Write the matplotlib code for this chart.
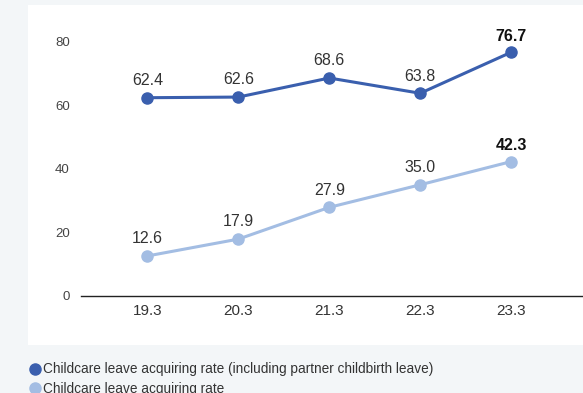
import matplotlib.pyplot as plt
from matplotlib.patches import Rectangle
from matplotlib.lines import Line2D

plt.rcParams['font.family'] = ['Liberation Sans', 'DejaVu Sans']

periods = ['19.3', '20.3', '21.3', '22.3', '23.3']
rate_incl_partner = [62.4, 62.6, 68.6, 63.8, 76.7]
rate_childcare = [12.6, 17.9, 27.9, 35.0, 42.3]
series_names = ['Childcare leave acquiring rate (including partner childbirth leave)',
                'Childcare leave acquiring rate']

dark = '#3a5fae'
light = '#a3bde3'

fig = plt.figure(figsize=(5.83, 3.93), dpi=100)
fig.patch.set_facecolor('#f3f6f8')

# white panel behind the chart
fig.patches.append(Rectangle((28 / 583, 1 - 345 / 393), 1 - 28 / 583, (345 - 5) / 393,
                             transform=fig.transFigure, facecolor='white',
                             edgecolor='none', zorder=-5))

ax = fig.add_axes([81 / 583, 1 - 296 / 393, 1 - 81 / 583, (296 - 10) / 393])
ax.set_facecolor('none')
ax.set_zorder(2)

x = list(range(len(periods)))
for vals, col in [(rate_incl_partner, dark), (rate_childcare, light)]:
    ax.plot(x, vals, color=col, lw=2.2, marker='o', ms=8, zorder=3, clip_on=False)
    for i, v in enumerate(vals):
        last = i == len(vals) - 1
        ax.annotate(f'{v:.1f}', (i, v), xytext=(0, 6 if last else 7),
                    textcoords='offset points', ha='center', va='bottom',
                    fontsize=11.5, color='#111111' if last else '#333333',
                    fontweight='bold' if last else 'normal')

ax.set_xlim(-0.73, 4.79)
ax.set_ylim(0, 90)
ax.set_yticks([0, 20, 40, 60, 80])
ax.set_xticks(x)
ax.set_xticklabels(periods)
ax.tick_params(axis='y', length=0, pad=8, labelsize=9.5, labelcolor='#444444')
ax.tick_params(axis='x', length=0, pad=6, labelsize=11, labelcolor='#333333')
for side in ['top', 'right', 'left']:
    ax.spines[side].set_visible(False)
ax.spines['bottom'].set_color('#222222')
ax.spines['bottom'].set_linewidth(1.0)

# legend sits below the white panel; second row is cut by the image edge as in the source
handles = [Line2D([], [], color=c, marker='o', ls='none', ms=8) for c in (dark, light)]
fig.legend(handles, series_names, loc='upper left', bbox_to_anchor=(21 / 583, 1 - 357 / 393),
           frameon=False, fontsize=9.8, handletextpad=0.0, labelspacing=0.38,
           handlelength=1.2, borderaxespad=0, labelcolor='#333333')

fig.savefig('out.png', dpi=100, facecolor=fig.get_facecolor())
